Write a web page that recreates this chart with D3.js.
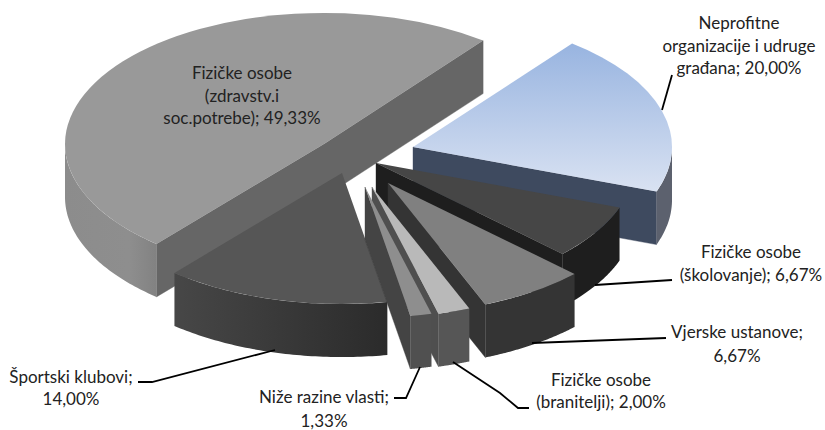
<!DOCTYPE html>
<html><head><meta charset="utf-8">
<script src="https://cdn.jsdelivr.net/npm/d3@7/dist/d3.min.js"></script>
<style>html,body{margin:0;padding:0;background:#fff}svg{display:block}text{font-family:Lato,"Open Sans",sans-serif;font-size:17px;fill:#222}</style>
</head><body><svg id="c" width="825" height="430"></svg>
<script>
// data
const categories = ["Neprofitne organizacije i udruge građana","Fizičke osobe (školovanje)","Vjerske ustanove","Fizičke osobe (branitelji)","Niže razine vlasti","Športski klubovi","Fizičke osobe (zdravstv.i soc.potrebe)"];
const shares = [20.00,6.67,6.67,2.00,1.33,14.00,49.33];
// layout
const W=825,H=430,RX=259,K=0.506,DEPTH=53,ROT=37.9*Math.PI/180;
const apexX=[413,376,388,372,365,342,324];
const apexY=[147,163,183,187,187,173,144];
const drawOrder=[6,0,1,2,5,3,4];
const topFill=["url(#gBlue)","#464646","#808080","#b9b9b9","#8e8e8e","#565656","#999999"];
const cutFill=["#3e4a5f","#1e1e1e","#343434","#4f4f4f","#444444","#333333","#666666"];
const outerFill=["#5c616e","#1e1e1e","#343434","#565656","#505050","url(#gSport)","url(#gBig)"];
const labels=[
 {x:739,ys:[29,52,74],t:["Neprofitne","organizacije i udruge","građana; 20,00%"]},
 {x:751,ys:[258,281],t:["Fizičke osobe","(školovanje); 6,67%"]},
 {x:737,ys:[338,362],t:["Vjerske ustanove;","6,67%"]},
 {x:601,ys:[386,408],t:["Fizičke osobe","(branitelji); 2,00%"]},
 {x:324,ys:[403,427],t:["Niže razine vlasti;","1,33%"]},
 {x:71,ys:[383,405],t:["Športski klubovi;","14,00%"]},
 {x:242,ys:[79,102,124],t:["Fizičke osobe","(zdravstv.i","soc.potrebe); 49,33%"]}];
const leaders=[
 [[672,75],[662,110]],
 [[672,280],[595,285]],
 [[666,338],[532,343]],
 [[453,362],[500,393],[518,408],[529,408]],
 [[420,367],[406,398],[394,398]],
 [[275,350],[152,382],[138,382]],
];
const svg=d3.select("#c");
const defs=svg.append("defs");
function grad(id,dir,stops){const g=defs.append("linearGradient").attr("id",id).attr("gradientUnits","objectBoundingBox");
 if(dir==="v"){g.attr("x1",0).attr("y1",0).attr("x2",0).attr("y2",1);}else{g.attr("x1",0).attr("y1",0).attr("x2",1).attr("y2",0);}
 stops.forEach(([o,c])=>g.append("stop").attr("offset",o).attr("stop-color",c));}
grad("gBlue","v",[[0,"#98b4e0"],[1,"#d9e2f2"]]);
grad("gBig","h",[[0,"#8c8c8c"],[0.7,"#8e8e8e"],[1,"#828282"]]);
grad("gSport","h",[[0,"#474747"],[1,"#2b2b2b"]]);
const pie=d3.pie().sort(null).startAngle(ROT).endAngle(ROT+2*Math.PI);
const arcs=pie(shares);
const arc=d3.arc().innerRadius(0).outerRadius(RX);
const line=d3.line();
const pt=(a,i,dz=0)=>{const [x,y]=d3.pointRadial(a,RX);return [apexX[i]+x,apexY[i]+y*K+dz];};
drawOrder.forEach(i=>{
 const d=arcs[i],a0=d.startAngle,a1=d.endAngle;
 const g=svg.append("g");
 const A=[apexX[i],apexY[i]],Ad=[A[0],A[1]+DEPTH];
 const wall=(a,fill)=>{g.append("path").attr("d",line([A,pt(a,i),pt(a,i,DEPTH),Ad])+"Z").attr("fill",fill).attr("stroke",fill).attr("stroke-width",0.4);};
 if(Math.sin(a0)<0) wall(a0,cutFill[i]);
 if(Math.sin(a1)>0) wall(a1,cutFill[i]);
 const lo=Math.max(a0,Math.PI/2),hi=Math.min(a1,3*Math.PI/2);
 if(hi>lo){
  const as=d3.range(0,61).map(k=>lo+(hi-lo)*k/60);
  const pts=as.map(a=>pt(a,i)).concat(as.slice().reverse().map(a=>pt(a,i,DEPTH)));
  g.append("path").attr("d",line(pts)+"Z").attr("fill",outerFill[i]);
 }
 g.append("path").attr("d",arc(d)).attr("transform",`translate(${A[0]},${A[1]}) scale(1,${K})`).attr("fill",topFill[i]);
});
svg.append("g").selectAll("path").data(leaders).join("path").attr("d",d=>line(d)).attr("fill","none").attr("stroke","#000").attr("stroke-width",1.8);
const lg=svg.append("g").attr("text-anchor","middle");
labels.forEach(l=>l.t.forEach((s,j)=>lg.append("text").attr("x",l.x).attr("y",l.ys[j]).text(s)));
</script></body></html>
